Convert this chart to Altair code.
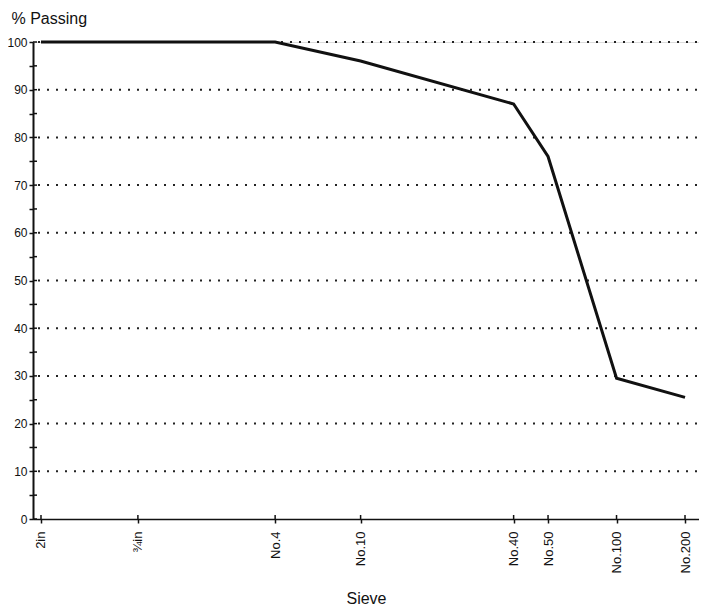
import altair as alt
import pandas as pd

sieve_labels = ["2in", "¾in", "No.4", "No.10", "No.40", "No.50", "No.100", "No.200"]
sieve_sizes = [50.8, 19.05, 4.75, 2.0, 0.425, 0.3, 0.15, 0.075]
percent_passing = [100, 100, 100, 96, 87, 76, 29.5, 25.5]
y_ticks = list(range(0, 101, 5))
y_grid = list(range(10, 101, 10))

W, H = 666, 477
FONT = "Liberation Sans"
INK = "#111111"

xscale = alt.Scale(type="log", domain=[0.0651, 55.08], reverse=True, nice=False, zero=False)
yscale = alt.Scale(domain=[0, 100], nice=False, zero=False)

df = pd.DataFrame({"size": sieve_sizes, "pct": percent_passing, "label": sieve_labels})
yt = pd.DataFrame({"v": y_ticks})
yg = pd.DataFrame({"v": y_grid})

label_expr = ("[" + ",".join(f"'{l}'" for l in sieve_labels) + "][indexof(["
              + ",".join(repr(s) for s in sieve_sizes) + "], datum.value)]")

grid = alt.Chart(yg).mark_rule(color="#222222", strokeWidth=2, strokeDash=[2, 7]).encode(
    y=alt.Y("v:Q", scale=yscale, axis=None),
    x=alt.value(5),
    x2=alt.value(W),
)

xin = alt.Chart(df).mark_rule(color=INK, strokeWidth=1.5).encode(
    x=alt.X("size:Q", scale=xscale, axis=None),
    y=alt.value(H - 4),
    y2=alt.value(H),
)

yin = alt.Chart(yt).mark_rule(color=INK, strokeWidth=1.5).encode(
    y=alt.Y("v:Q", scale=yscale, axis=None),
    x=alt.value(0),
    x2=alt.value(4),
)

line = alt.Chart(df).mark_line(color=INK, strokeWidth=3).encode(
    x=alt.X("size:Q", scale=xscale, axis=alt.Axis(
        values=sieve_sizes, labelExpr=label_expr, labelAngle=270,
        labelFontSize=13, labelFont=FONT, labelColor=INK, labelPadding=8,
        labelFlush=False, labelOverlap=False,
        tickSize=4, tickWidth=1.5, tickColor=INK,
        domainWidth=1.5, domainColor=INK, grid=False, zindex=1,
        title="Sieve", titleFont=FONT, titleFontSize=16, titleFontWeight="normal",
        titleColor=INK, titleBaseline="alphabetic", titleY=84,
    )),
    y=alt.Y("pct:Q", scale=yscale, axis=alt.Axis(
        values=y_ticks, labelExpr="datum.value % 10 === 0 ? datum.label : ''",
        labelFontSize=12, labelFont=FONT, labelColor=INK, labelPadding=2,
        tickSize=4, tickWidth=1.5, tickColor=INK,
        domainWidth=2, domainColor=INK, grid=False, zindex=1,
        title="% Passing", titleFont=FONT, titleFontSize=16, titleFontWeight="normal",
        titleColor=INK, titleAngle=0, titleAlign="left", titleBaseline="alphabetic",
        titleX=-22, titleY=-19,
    )),
    order=alt.Order("size:Q", sort="descending"),
)

chart = alt.layer(grid, xin, yin, line).resolve_axis(
    x="independent", y="independent"
).properties(
    width=W, height=H,
    autosize=alt.AutoSizeParams(type="none"),
    padding={"left": 25, "top": 34, "right": 0, "bottom": 86},
).configure_view(stroke=None).configure(background="white")

chart.save("out.html", embed_options={"renderer": "svg", "actions": False})
